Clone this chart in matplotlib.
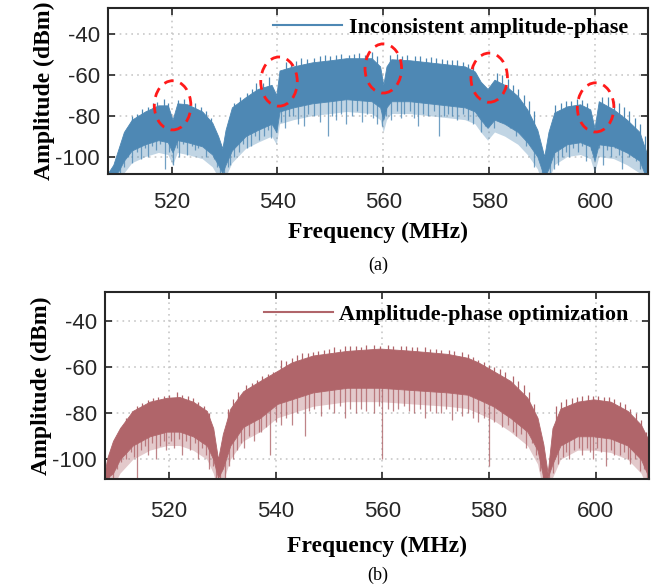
import numpy as np
import matplotlib
matplotlib.use("Agg")
import matplotlib.pyplot as plt
from matplotlib.patches import Ellipse

plt.rcParams["axes.unicode_minus"] = False

# ---- data (MHz / dBm) ----
# (a) inconsistent amplitude-phase: body envelope of the spectrum
freq_a = [508, 509, 510, 511, 512.5, 515, 517.5, 519.3, 520.2, 521.1,
          523, 525.8, 527.7, 528.8, 529.6, 530.2, 531.4, 534, 536.3, 538.9,
          539.8, 540.4, 543, 546.6, 550, 553, 557.8, 559.4, 560, 560.6,
          561.5, 565, 568.5, 572, 575.4, 577.3, 578.4, 579.7, 581, 582.9,
          585.4, 587.2, 589.1, 590.4, 591.2, 592.3, 594.7, 597.2, 599.1, 599.9,
          600.7, 603.5, 606, 608.4, 609.3, 610]
top_a = [-108, -104, -96, -88, -82, -78, -75, -75, -82, -74,
         -74.5, -78, -83.5, -90, -96, -87, -76, -71, -67, -65,
         -70, -58, -56, -54, -53, -52, -52, -56, -65, -56,
         -52.5, -53, -54, -55, -56, -58.5, -63.5, -67, -62.5, -65,
         -70.5, -77, -87, -100, -88, -78.5, -75.5, -74.5, -77, -86,
         -73, -77, -82, -88, -95, -100]
low_a = [-110, -110, -107, -102, -97, -94, -92, -93, -98, -92,
         -93, -95, -99, -104, -108, -104, -97, -90, -87, -84,
         -88, -78, -76, -74, -73, -72, -73, -76, -82, -76,
         -73, -73, -74, -75, -76, -78, -82, -86, -82, -84,
         -88, -93, -100, -110, -106, -98, -94, -93, -95, -102,
         -94, -95, -98, -102, -108, -110]
# single-bin dips below the body
dip_f_a = [508.5, 509.3, 510.2, 511, 511.8, 512.6, 513.5, 514.3, 515, 515.6,
           516.3, 517, 517.8, 518.8, 519.5, 520.3, 521, 521.5, 522.2, 523,
           523.8, 524.5, 525, 525.7, 526.5, 527.2, 528, 528.5, 529.2, 530,
           530.6, 531, 531.8, 532.8, 533.5, 534.2, 535, 535.8, 536.6, 537.5,
           538.2, 538.8, 539.8, 540.6, 541.5, 542.2, 543, 543.8, 545, 545.8,
           547, 548, 549.5, 550.3, 551, 552, 553, 554, 555, 556,
           557, 558, 558.8, 559.8, 560.5, 561.5, 562.5, 563.3, 564, 565,
           565.8, 566.5, 567.5, 568.5, 569.5, 570.5, 571.5, 572.2, 573, 574,
           575, 576, 577, 577.8, 578.5, 579.3, 580.2, 581, 582, 583,
           584, 585, 586, 587, 587.8, 588.5, 589.3, 590, 590.8, 591.5,
           592.2, 593, 593.8, 594.5, 595, 595.8, 596.8, 597.6, 598.3, 599.2,
           600, 600.8, 601.5, 602.2, 603, 603.8, 604.5, 605, 605.8, 606.5,
           607, 607.8, 608.5, 609, 609.5]
dip_v_a = [-108, -106, -108, -105, -100, -103, -98, -101, -96, -100,
           -95, -97, -94, -106, -98, -104, -96, -100, -94, -99,
           -95, -97, -96, -93, -100, -97, -101, -105, -108, -108,
           -105, -104, -100, -98, -94, -96, -95, -90, -92, -90,
           -87, -91, -88, -83, -86, -80, -80, -84, -85, -79,
           -80, -83, -90, -80, -82, -79, -84, -80, -78, -83,
           -79, -81, -84, -85, -80, -82, -78, -81, -79, -78,
           -81, -85, -79, -80, -78, -90, -80, -79, -80, -82,
           -79, -82, -84, -80, -88, -85, -84, -86, -83, -83,
           -86, -90, -88, -95, -93, -105, -100, -108, -108, -108,
           -106, -104, -100, -98, -100, -96, -98, -95, -102, -97,
           -100, -96, -104, -97, -100, -96, -99, -106, -98, -100,
           -99, -102, -106, -104, -108]
# small peaks poking above the body
peak_f_a = [510.5, 511.5, 512.5, 513.5, 514.5, 515.5, 516.5, 517.2, 518.6, 519.3,
            521.3, 522.4, 523.5, 524.5, 525.5, 526.5, 527.5, 531.8, 533, 534.2,
            535.2, 536, 537.2, 538.5, 541.6, 542.5, 543.5, 544.5, 545.5, 547,
            548, 549, 550, 551, 552, 553.5, 554.5, 555.5, 556.5, 557.8,
            558.8, 561.3, 562.5, 563.5, 564.5, 566, 567, 568, 569, 570,
            571, 572, 573, 574, 575, 576, 577, 581.5, 582.5, 583.5,
            584.5, 585.5, 586.5, 587.5, 588.5, 592.5, 593.5, 594.5, 595.5, 596.5,
            597.5, 598.5, 601.3, 602.5, 603.5, 604.5, 605.5, 606.5, 607.5, 608.5,
            609.5]
peak_v_a = [-95, -86, -80, -79, -77, -76, -74, -73.5, -72, -74,
            -72.5, -72, -73, -74, -76, -78, -81, -74, -71, -69,
            -67, -64, -64, -61, -54, -55, -53.5, -52, -52.5, -52,
            -51, -50.5, -51, -50.5, -50, -50.5, -50, -49.5, -50.5, -49,
            -51, -50.5, -50, -51, -50.5, -51, -51, -52, -51.5, -52,
            -52.5, -53, -53, -53, -54, -55, -56, -59, -60, -62,
            -65, -67, -70, -73, -78, -75, -74, -73, -73, -72,
            -72.5, -74, -71, -71, -73, -74, -76, -78, -81, -84,
            -90]

# (b) amplitude-phase optimization
freq_b = [508, 508.4, 509.5, 510.8, 513.2, 516.4, 519.6, 522, 524.5, 527.1,
          528.3, 529.2, 530.1, 531.5, 533.9, 537.1, 540.3, 543, 547, 553.4,
          559.6, 565.8, 572.2, 576, 578, 580.8, 584, 587.2, 589.1, 590.2,
          591, 591.9, 593.4, 596.6, 599.6, 602.8, 606, 608.5, 610]
top_b = [-105, -99.6, -92, -86.5, -79, -75, -73.3, -73, -75, -79,
         -86.5, -100, -89, -78, -70.5, -66, -61.7, -58, -55, -53,
         -52, -53, -54.3, -56, -58, -61.7, -66, -73.3, -82, -93.5,
         -106, -86.5, -78, -75, -74, -75, -79, -85, -92]
low_b = [-108, -108, -106, -100, -94, -90, -88, -88, -90, -94,
         -100, -108, -104, -94, -86, -82, -76, -74, -71, -69,
         -69, -70, -71, -72, -74, -77, -82, -88, -96, -108,
         -108, -102, -94, -90, -90, -91, -94, -100, -108]
dip_f_b = [508.7, 509.5, 510.3, 511, 512, 512.8, 513.5, 514, 514.8, 515.5,
           516, 516.8, 517.6, 518.4, 519, 519.5, 520.3, 521, 521.8, 522.5,
           523.2, 524, 524.8, 525.5, 526.2, 527, 527.5, 528.2, 528.8, 529.5,
           530.5, 531.2, 532, 532.8, 533.5, 534, 535, 536, 536.8, 537.3,
           538.2, 539, 540, 541, 542, 543, 544, 545.5, 546.3, 547.2,
           548.5, 550, 551, 552, 553, 554, 555, 556, 557, 558.5,
           559.3, 560, 561, 562, 563, 564, 565, 566, 567, 568,
           569, 570, 571, 572, 573, 574, 575, 576, 577, 578,
           579, 580, 581, 582.5, 583.5, 584.5, 585, 586, 587, 588,
           588.8, 589.5, 590.2, 591.2, 592, 593, 593.8, 594.5, 595, 596,
           596.8, 597.5, 598.3, 599, 599.5, 600.3, 601, 602, 602.8, 603.5,
           604.5, 605.3, 606, 606.5, 607.3, 608.3, 609, 609.7]
dip_v_b = [-108, -108, -104, -101, -100, -97, -99, -108, -96, -94,
           -98, -93, -100, -94, -92, -96, -92, -95, -91, -98,
           -92, -96, -93, -100, -95, -98, -104, -103, -108, -108,
           -108, -103, -100, -96, -93, -95, -90, -92, -88, -88,
           -86, -98, -84, -85, -82, -85, -80, -90, -79, -78,
           -81, -78, -80, -77, -82, -78, -80, -78, -79, -80,
           -77, -100, -78, -79, -78, -77, -79, -80, -78, -82,
           -79, -80, -80, -78, -83, -79, -81, -80, -82, -84,
           -82, -103, -84, -86, -85, -88, -90, -89, -95, -93,
           -98, -105, -108, -108, -106, -102, -99, -97, -100, -96,
           -95, -98, -95, -97, -100, -95, -97, -103, -96, -98,
           -98, -97, -100, -102, -100, -105, -104, -108]
peak_f_b = [510, 511, 512, 513, 514, 515, 516, 517, 518, 519,
            520, 521.5, 522.5, 523.5, 524.5, 525.5, 526.5, 527.5, 531, 532,
            533, 534.5, 535.5, 536.5, 537.5, 538.5, 539.5, 541, 542, 543,
            544, 545, 546, 547, 548, 549, 550, 551, 552, 553,
            554, 555, 556, 557, 558.5, 559.5, 561, 562, 563.5, 564.5,
            565.5, 566.5, 568, 569, 570, 571, 572.5, 573.5, 575, 576,
            577, 578, 579, 580, 581, 582, 583, 584.5, 585.5, 586.5,
            587.5, 588.5, 592.5, 593.5, 594.5, 595.5, 596.5, 597.5, 598.5, 599.5,
            600.5, 601.5, 602.5, 603.5, 604.5, 605.5, 606.5, 607.5, 608.5, 609.5]
peak_v_b = [-92, -86, -82, -79, -77, -75.5, -74.5, -73.5, -73, -72.5,
            -72, -71, -72, -72.5, -73.5, -75, -77, -80, -78, -74,
            -71, -68, -67, -65.5, -64, -63, -62, -57, -57.5, -56,
            -55, -54, -54, -53.5, -53, -52.5, -52, -51.5, -52, -51,
            -51, -51, -51.5, -50.5, -50.5, -51, -50.5, -51, -51, -51,
            -51.5, -51.5, -51.5, -52, -52, -52.5, -52.5, -53, -53.5, -54.5,
            -55.5, -57, -58, -59, -60, -61, -62, -64, -66, -68,
            -71, -76, -77, -75, -74, -73.5, -73, -72.5, -72, -72.5,
            -72.5, -73, -73, -74, -75, -76, -78, -80, -83, -88]

# circled distortion spots in (a)
mark_f = [520.2, 540.3, 560, 580, 600.1]
mark_v = [-75, -63.4, -57, -61.5, -76]

blue = "#4e88b4"
red = "#b0656a"
serif = "Liberation Serif"
sans = "Liberation Sans"

fig = plt.figure(figsize=(6.57, 5.88), dpi=100)
ax_a = fig.add_axes([0.1644, 0.7041, 0.8219, 0.2823])
ax_b = fig.add_axes([0.1598, 0.1854, 0.828, 0.318])


def draw_panel(ax, freq, top, low, dip_f, dip_v, peak_f, peak_v, color, label, xpad, xlpad):
    # spikes go from inside the body out to the read tip value
    ax.vlines(dip_f, dip_v, np.interp(dip_f, freq, top) - 4, color=color, lw=0.9, alpha=0.8)
    # sparse fringe under the dense body
    ax.fill_between(freq, np.array(low) - 6, low, color=color, lw=0, alpha=0.35)
    ax.fill_between(freq, low, top, color=color, lw=0.6, edgecolor=color)
    ax.vlines(peak_f, np.interp(peak_f, freq, low) + 4, peak_v, color=color, lw=0.9)
    ax.plot([], [], color=color, lw=1.5, label=label)

    ax.set_xlim(508, 610)
    ax.set_ylim(-108.5, -27.5)
    ax.set_xticks([520, 540, 560, 580, 600])
    ax.set_yticks([-100, -80, -60, -40])
    ax.grid(True, ls=(0, (1, 2.5)), color="#c8c8c8", lw=1.2)
    ax.set_axisbelow(True)
    ax.tick_params(direction="in", top=True, right=True, length=5, width=1.2,
                   labelsize=16, colors="#262626")
    ax.tick_params(axis="x", pad=xpad)
    ax.tick_params(axis="y", pad=6)
    for lab in ax.get_xticklabels() + ax.get_yticklabels():
        lab.set_fontfamily(sans)
    for sp in ax.spines.values():
        sp.set_linewidth(1.5)
        sp.set_color("#262626")
    ax.set_xlabel("Frequency (MHz)", fontsize=17, fontweight="bold", family=serif, labelpad=xlpad)
    ax.set_ylabel("Amplitude (dBm)", fontsize=17, fontweight="bold", family=serif, labelpad=0)
    ax.legend(loc="center right", bbox_to_anchor=(0.963, 0.88), frameon=False,
              handlelength=3.1, handletextpad=0.3, borderpad=0, borderaxespad=0,
              prop={"family": serif, "weight": "bold", "size": 16})


draw_panel(ax_a, freq_a, top_a, low_a, dip_f_a, dip_v_a, peak_f_a, peak_v_a,
           blue, "Inconsistent amplitude-phase", 13, 6)
draw_panel(ax_b, freq_b, top_b, low_b, dip_f_b, dip_v_b, peak_f_b, peak_v_b,
           red, "Amplitude-phase optimization", 16, 10)

for f, v in zip(mark_f, mark_v):
    ax_a.add_patch(Ellipse((f, v), 6.9, 24, fill=False, edgecolor="#ff1a1a",
                           lw=2, ls=(0, (3.5, 2.5)), zorder=5))

fig.text(0.575, 0.549, "(a)", ha="center", va="center", fontsize=13, family=serif)
fig.text(0.575, 0.022, "(b)", ha="center", va="center", fontsize=13, family=serif)

fig.savefig("out.png", dpi=100)
